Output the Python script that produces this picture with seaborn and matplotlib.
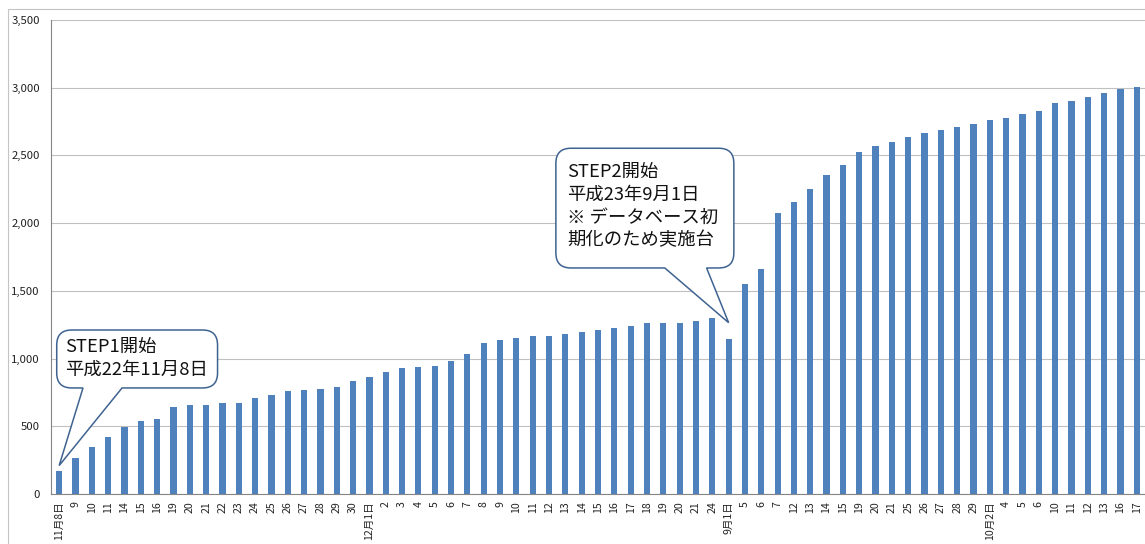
import numpy as np
import matplotlib
matplotlib.use("Agg")
import matplotlib.pyplot as plt
import matplotlib.ticker as mticker
from matplotlib.path import Path
from matplotlib.patches import PathPatch, Rectangle
from matplotlib.transforms import IdentityTransform
import seaborn as sns

# ── data ─────────────────────────────────────────────────────────────────────
day_labels = [
    "11月8日", "9", "10", "11", "14", "15", "16", "19", "20", "21",
    "22", "23", "24", "25", "26", "27", "28", "29", "30", "12月1日",
    "2", "3", "4", "5", "6", "7", "8", "9", "10", "11",
    "12", "13", "14", "15", "16", "17", "18", "19", "20", "21",
    "24", "9月1日", "5", "6", "7", "12", "13", "14", "15", "19",
    "20", "21", "25", "26", "27", "28", "29", "10月2日", "4", "5",
    "6", "10", "11", "12", "13", "16", "17",
]
units = [
    170, 268, 345, 418, 497, 541, 556, 642, 655, 655,
    670, 670, 707, 729, 760, 770, 772, 790, 834, 866,
    901, 930, 940, 942, 985, 1037, 1118, 1138, 1155, 1163,
    1163, 1182, 1195, 1209, 1227, 1244, 1259, 1259, 1266, 1278,
    1298, 1143, 1552, 1658, 2076, 2153, 2249, 2352, 2433, 2525,
    2569, 2596, 2638, 2667, 2690, 2707, 2734, 2764, 2773, 2803,
    2828, 2884, 2904, 2933, 2963, 2988, 3005,
]
y_ticks = [0, 500, 1000, 1500, 2000, 2500, 3000, 3500]

step1_text = "STEP1開始\n平成22年11月8日"
step2_text = "STEP2開始\n平成23年9月1日\n※ データベース初\n期化のため実施台"

# ── style ────────────────────────────────────────────────────────────────────
BAR = "#4F81BD"
GRID = "#C0C0C0"
AXIS = "#868686"
CALLOUT = "#3F6391"

sns.set_theme(style="white")
plt.rcParams["font.family"] = ["Noto Sans CJK JP", "DejaVu Sans"]

W, H = 1145, 544
fig = plt.figure(figsize=(W / 100, H / 100), dpi=100)
ax = fig.add_axes([51 / W, 50 / H, (W - 51) / W, 474 / H])

x = np.arange(len(units))
sns.barplot(x=x, y=units, color=BAR, saturation=1, width=0.38,
            errorbar=None, linewidth=0, ax=ax, zorder=2)

ax.set_xlim(-0.5, len(units) - 0.5)
ax.set_ylim(0, 3500)
ax.set_yticks(y_ticks)
ax.yaxis.set_major_formatter(mticker.FuncFormatter(lambda v, _: f"{v:,.0f}"))
ax.yaxis.grid(True, color=GRID, linewidth=0.8)
ax.set_axisbelow(True)

ax.set_xticks(x)
ax.set_xticklabels(day_labels, rotation=90, ha="center", va="top")
ax.set_xticks(np.arange(-0.5, len(units), 1), minor=True)
ax.tick_params(axis="x", which="major", length=0, pad=5, labelsize=7.6, colors="#222222")
ax.tick_params(axis="x", which="minor", length=4, width=0.8, color=AXIS, direction="out")
ax.tick_params(axis="y", which="major", length=4, width=0.8, color=AXIS, direction="out",
               pad=4, labelsize=8.2, labelcolor="#222222")
ax.set_xlabel("")
ax.set_ylabel("")

for side in ["top", "right"]:
    ax.spines[side].set_visible(False)
for side in ["left", "bottom"]:
    ax.spines[side].set_color(AXIS)
    ax.spines[side].set_linewidth(0.8)

# outer chart border (cropped on the right and bottom)
fig.add_artist(Rectangle((8 / W, -0.5), 2, (H - 9) / H + 0.5, transform=fig.transFigure,
                         fill=False, edgecolor="#C4C4C4", linewidth=0.8))


# ── callouts ─────────────────────────────────────────────────────────────────
def callout(box, base, tip, r=15):
    """rounded box with a triangular tail, box/base/tip in data coords"""
    to_px = ax.transData.transform
    x0, y1 = to_px((box[0], box[3]))
    x1, y0 = to_px((box[1], box[2]))
    bx0 = to_px((base[0], 0))[0]
    bx1 = to_px((base[1], 0))[0]
    tx, ty = to_px(tip)
    verts = [
        (x0 + r, y0), (bx0, y0), (tx, ty), (bx1, y0), (x1 - r, y0),
        (x1, y0), (x1, y0 + r),
        (x1, y1 - r),
        (x1, y1), (x1 - r, y1),
        (x0 + r, y1),
        (x0, y1), (x0, y1 - r),
        (x0, y0 + r),
        (x0, y0), (x0 + r, y0),
        (x0 + r, y0),
    ]
    codes = [Path.MOVETO, Path.LINETO, Path.LINETO, Path.LINETO, Path.LINETO,
             Path.CURVE3, Path.CURVE3,
             Path.LINETO,
             Path.CURVE3, Path.CURVE3,
             Path.LINETO,
             Path.CURVE3, Path.CURVE3,
             Path.LINETO,
             Path.CURVE3, Path.CURVE3,
             Path.CLOSEPOLY]
    patch = PathPatch(Path(verts, codes), transform=IdentityTransform(),
                      facecolor="white", edgecolor=CALLOUT, linewidth=1.1,
                      zorder=5, clip_on=False)
    ax.add_patch(patch)


callout(box=(-0.15, 9.7, 783, 1211), base=(1.46, 3.85), tip=(0, 210))
ax.text(0.38, 1000, step1_text, ha="left", va="center", fontsize=13.2,
        linespacing=1.32, color="#111111", zorder=6)

callout(box=(30.42, 41.32, 1669, 2553), base=(37.09, 39.65), tip=(41, 1265))
ax.text(31.1, 2126, step2_text, ha="left", va="center", fontsize=13.2,
        linespacing=1.32, color="#111111", zorder=6)

plt.savefig("out.png", dpi=100)
plt.close()
